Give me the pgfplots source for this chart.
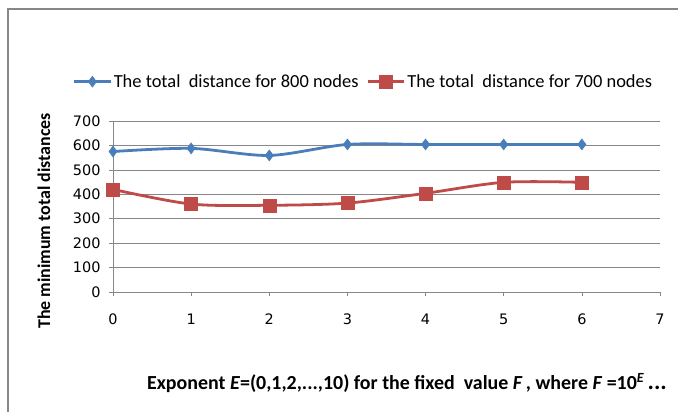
\documentclass[border=0pt]{standalone}
\usepackage{pgfplots}
\pgfplotsset{compat=1.18}
\usepackage{fontspec}
\setmainfont{Carlito}
\newfontfamily\tickfont{DejaVu Sans}
\definecolor{bl}{HTML}{4A7EBB}
\definecolor{rd}{HTML}{BE4B48}
\definecolor{gr}{HTML}{878787}
\begin{document}
\begin{tikzpicture}[x=1bp,y=1bp]
\path[use as bounding box] (0bp,0bp) rectangle (678bp,412bp);
\draw[gr, line width=1.2pt] (8bp,0bp) -- (8bp,403bp) -- (678bp,403bp);
\begin{axis}[
  at={(113bp,120bp)}, anchor=south west,
  scale only axis, width=547bp, height=171bp,
  xmin=0, xmax=7, ymin=0, ymax=700,
  xtick={0,...,7}, ytick={0,100,...,700},
  axis x line*=bottom, axis y line*=left,
  axis line style={gr},
  ymajorgrids, grid style={gr, line width=0.6pt},
  tick style={gr, line width=0.6pt}, tick align=outside, major tick length=4bp,
  tick label style={font=\tickfont\fontsize{14.5}{16}\selectfont},
  /pgf/number format/assume math mode=true,
  xticklabel style={yshift=-14bp},
  yticklabel style={xshift=-5bp},
  legend style={at={(0.458,1.23)}, anchor=center, draw=none, fill=none,
    legend columns=2, font=\fontsize{18.5}{21}\selectfont,
    /tikz/every even column/.append style={column sep=6bp}},
  legend image code/.code={\draw[#1] (0bp,0bp) -- (36bp,0bp); \draw[#1,mark repeat=2,mark phase=2] plot coordinates {(0bp,0bp) (18bp,0bp) (36bp,0bp)};},
]
\addplot[bl, line width=2.8pt, smooth, mark=diamond*, mark size=5.5bp, mark options={solid, fill=bl, draw=bl, line width=0.5pt}]
  coordinates {(0,575) (1,588) (2,559) (3,604) (4,604) (5,604) (6,604)};
\addlegendentry{The total\ \ distance for 800 nodes}
\addplot[rd, line width=2.8pt, smooth, mark=square*, mark size=6.5bp, mark options={solid, fill=rd, draw=rd, line width=0.5pt}]
  coordinates {(0,420) (1,360) (2,355) (3,364) (4,404) (5,449) (6,449)};
\addlegendentry{The total\ \ distance for 700 nodes}
\end{axis}
\node[rotate=90, font=\bfseries\fontsize{18}{20}\selectfont] at (44bp,191bp) {The minimum total distances};
\node[font=\bfseries\fontsize{20}{22}\selectfont] at (407bp,29bp) {Exponent \textit{E}=(0,1,2,...,10) for the fixed\ \ value \textit{F}\,, where \textit{F} =10\textsuperscript{\textit{E}}\,\scalebox{1.2}{...}};
\end{tikzpicture}
\end{document}
